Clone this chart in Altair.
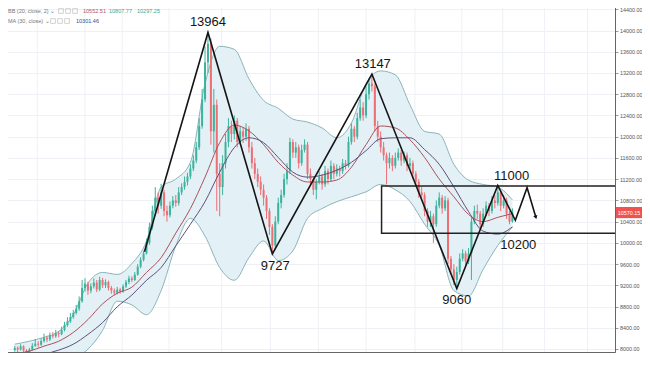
import altair as alt
import pandas as pd

# ---------------- data ----------------
first_open = 7980
closes = [8020, 7990, 8050, 7970, 7940, 7990, 8060, 8100, 8080, 8150,
          8210, 8180, 8260, 8240, 8300, 8280, 8360, 8450, 8520, 8600,
          8680, 8760, 8900, 9150, 9230, 9100, 9180, 9250, 9120, 9300,
          9200, 9260, 9150, 9100, 9060, 9120, 9080, 9180, 9260, 9330,
          9300, 9400, 9550, 9680, 9800, 10000, 10300, 10600, 10850, 10700,
          10950, 10600, 10520, 10700, 10800, 10750, 10950, 11050, 11150, 11250,
          11400, 11550, 11800, 12200, 12700, 13400, 13750, 12100, 12600, 11300,
          11050, 11500, 11900, 12200, 12050, 12300, 11900, 12100, 12000, 12150,
          11800, 11500, 11300, 11150, 11000, 10850, 10600, 10300, 9950, 10400,
          10750, 10900, 11200, 11350, 11900, 11700, 11800, 11500, 11750, 11850,
          11300, 11200, 11000, 11150, 11250, 11100, 11350, 11200, 11450, 11300,
          11400, 11350, 11500, 11450, 11900, 12150, 12000, 12350, 12550, 12400,
          12800, 13000, 12950, 12200, 12000, 11800, 11650, 11500, 11600, 11450,
          11600, 11700, 11550, 11650, 11450, 11500, 11300, 11150, 10950, 10900,
          10600, 10400, 10500, 10350, 10700, 10850, 10650, 10800, 9700, 9500,
          9300, 9450, 9700, 9800, 9650, 9800, 10400, 10600, 10550, 10350,
          10550, 10700, 10600, 10800, 10750, 10950, 10700, 10800, 10550, 10400,
          10570.15]
highs = [8060, 8050, 8090, 8070, 8000, 8020, 8110, 8190, 8150, 8200,
         8290, 8250, 8310, 8320, 8360, 8340, 8420, 8510, 8600, 8680,
         8740, 8830, 8990, 9300, 9330, 9270, 9240, 9330, 9300, 9360,
         9340, 9310, 9290, 9190, 9140, 9170, 9150, 9220, 9300, 9380,
         9370, 9450, 9600, 9730, 9850, 10080, 10380, 10700, 11050, 10950,
         11110, 11000, 10700, 10780, 10880, 10900, 11050, 11120, 11250, 11320,
         11480, 11650, 11900, 12350, 12900, 13700, 13964, 13850, 12900, 12700,
         11500, 11650, 12050, 12350, 12300, 12400, 12350, 12200, 12180, 12250,
         12200, 11900, 11600, 11400, 11250, 11100, 10900, 10650, 10350, 10500,
         10850, 11000, 11300, 11500, 11980, 11950, 11900, 11850, 11850, 11950,
         11900, 11400, 11250, 11200, 11350, 11300, 11450, 11400, 11550, 11500,
         11480, 11450, 11580, 11560, 12000, 12250, 12200, 12450, 12700, 12650,
         12950, 13100, 13180, 13000, 12300, 12100, 11900, 11700, 11700, 11650,
         11700, 11780, 11750, 11720, 11700, 11600, 11550, 11350, 11200, 11050,
         10950, 10650, 10600, 10550, 10800, 10950, 10900, 10880, 10850, 9750,
         9600, 9550, 9800, 9880, 9850, 9900, 10480, 10700, 10720, 10600,
         10650, 10780, 10750, 10880, 10900, 11080, 11000, 10900, 10850, 10600,
         10650]
lows = [7950, 7940, 7970, 7930, 7900, 7910, 7970, 8040, 8030, 8060,
        8120, 8130, 8150, 8200, 8210, 8220, 8260, 8330, 8420, 8490,
        8570, 8650, 8720, 8870, 9080, 9020, 9050, 9140, 9070, 9090,
        9150, 9150, 9100, 9040, 9010, 9030, 9040, 9060, 9150, 9220,
        9260, 9280, 9380, 9520, 9650, 9780, 9960, 10250, 10520, 10550,
        10640, 10500, 10400, 10480, 10650, 10680, 10700, 10900, 11000, 11080,
        11200, 11350, 11500, 11750, 12150, 12650, 13200, 11850, 11700, 10600,
        10500, 10900, 11400, 11800, 11900, 11950, 11800, 11850, 11880, 11920,
        11700, 11400, 11200, 11050, 10900, 10700, 10450, 10150, 9790, 9900,
        10350, 10650, 10850, 11100, 11300, 11600, 11600, 11400, 11450, 11700,
        11200, 11100, 10900, 10820, 11100, 11000, 11050, 11100, 11150, 11200,
        11250, 11250, 11300, 11380, 11420, 11850, 11900, 11950, 12300, 12300,
        12350, 12700, 12850, 12100, 11900, 11700, 11550, 11100, 11400, 11350,
        11400, 11550, 11450, 11500, 11350, 11380, 11200, 11050, 10850, 10800,
        10500, 10300, 10300, 10000, 10300, 10650, 10550, 10600, 9600, 9400,
        9200, 9140, 9400, 9650, 9550, 9600, 9300, 10350, 10450, 10250,
        10300, 10500, 10500, 10550, 10650, 10700, 10600, 10650, 10450, 10350,
        10380]

band_idx = [0, 5, 10, 15, 20, 25, 30, 35, 40, 45, 50, 55, 60, 65, 70, 75, 80,
            85, 90, 95, 100, 105, 110, 115, 120, 125, 130, 135, 140, 145, 150,
            155, 160, 165, 170]
bb_upper = [8090, 8146, 8220, 8331, 8646, 9238, 9442, 9405, 9609, 10035, 11053,
            11201, 11516, 13000, 13702, 13646, 13090, 12683, 12535, 12331, 12275,
            12164, 11979, 12257, 13000, 13239, 13165, 12600, 12100, 12050, 11480,
            11180, 11100, 11050, 10807.77]
bb_lower = [7812, 7794, 7794, 7812, 7831, 7997, 8350, 8900, 8831, 8646, 9100,
            9942, 10461, 10127, 9535, 9294, 9720, 10035, 9664, 9849, 10461,
            10646, 10775, 10868, 10961, 11100, 11000, 10780, 10350, 9950, 9100,
            9000, 9500, 9950, 10297.25]
bb_basis = [7905, 7960, 8053, 8146, 8312, 8553, 8850, 9050, 9164, 9442, 9720,
            10183, 10646, 11238, 11887, 12220, 12109, 11850, 11516, 11275, 11146,
            11146, 11183, 11424, 11850, 12201, 12164, 11942, 11609, 11201, 10868,
            10535, 10400, 10480, 10552.51]
ma30 = [7831, 7868, 7905, 7979, 8090, 8275, 8497, 8794, 9016, 9294, 9535,
        9942, 10350, 10776, 11331, 11794, 11979, 11887, 11609, 11331, 11238,
        11275, 11368, 11516, 11738, 11961, 11979, 11979, 11757, 11479, 11053,
        10590, 10220, 10164, 10301.46]

zz_idx = [44.3, 66, 88, 122, 151, 165, 171, 175, 178]
zz_price = [9830, 13964, 9790, 13180, 9140, 11080, 10424, 11040, 10480]

top_text = ["13964", "13147", "11000"]
top_idx = [66, 122.3, 169.7]
top_price = [13964, 13180, 11080]
bot_text = ["9727", "9060", "10200"]
bot_idx = [89, 151, 172]
bot_price = [9790, 9140, 10180]

box_idx = [125.3, 210]
box_price = [11070, 10180]

vgrid_idx = [7.7, 24, 36.7, 52.7, 70.7, 87.3, 103.7, 120, 136.7, 152.7, 166.7, 181, 195.7]
y_ticks = [8000, 8400, 8800, 9200, 9600, 10000, 10400, 10800, 11200, 11600,
           12000, 12400, 12800, 13200, 13600, 14000, 14400]

legend1_vals = ["10552.51", "10807.77", "10297.25"]
legend2_vals = ["10301.46"]
last_price = 10570.15

# ---------------- tables ----------------
opens = [first_open] + closes[:-1]
candles = pd.DataFrame({
    "i": list(range(len(closes))),
    "open": opens, "close": closes, "high": highs, "low": lows,
})
candles["dir"] = ["up" if c >= o else "down" for o, c in zip(opens, closes)]
bands = pd.DataFrame({"idx": band_idx, "upper": bb_upper, "lower": bb_lower,
                      "basis": bb_basis, "ma": ma30})
zz = pd.DataFrame({"k": list(range(len(zz_idx))), "idx": zz_idx, "price": zz_price})
tops = pd.DataFrame({"t": top_text, "idx": top_idx, "price": top_price})
bots = pd.DataFrame({"t": bot_text, "idx": bot_idx, "price": bot_price})
box = pd.DataFrame({"x1": [box_idx[0]], "x2": [box_idx[1]],
                    "top": [box_price[0]], "bottom": [box_price[1]]})
vgrid = pd.DataFrame({"g": vgrid_idx})
last = pd.DataFrame({"p": [last_price], "t": [f"{last_price:.2f}"]})
arrow = pd.DataFrame({"idx": [zz_idx[-1]], "price": [zz_price[-1]]})

# ---------------- scales / axes ----------------
W, H = 615, 352
xs = alt.Scale(domain=[-3.333, 203.333], nice=False, zero=False)
ys = alt.Scale(domain=[7943, 14575], nice=False, zero=False)
x_axis = alt.Axis(labels=False, ticks=False, grid=False, domain=True,
                  domainColor="#666", title=None)
y_axis = alt.Axis(orient="right", values=y_ticks, format=".2f", title=None,
                  labelFontSize=5.4, labelColor="#555", labelFont="Liberation Sans",
                  tickSize=3, tickColor="#999", labelPadding=1.5,
                  domainColor="#666", grid=True, gridColor="#edf0f5")


def X(f):
    return alt.X(f, type="quantitative", scale=xs, axis=x_axis)


def Y(f):
    return alt.Y(f, type="quantitative", scale=ys, axis=y_axis)


col = alt.Color("dir:N", scale=alt.Scale(domain=["up", "down"],
                                          range=["#3cb39c", "#ec6f76"]), legend=None)

layers = []
layers.append(alt.Chart(vgrid).mark_rule(color="#edf0f5", strokeWidth=1).encode(x=X("g")))
layers.append(alt.Chart(bands).mark_area(color="#e3f0f5", interpolate="monotone", clip=True)
              .encode(x=X("idx"), y=Y("upper"), y2="lower"))
for fld in ["upper", "lower"]:
    layers.append(alt.Chart(bands).mark_line(color="#8ab5ba", strokeWidth=1,
                                             interpolate="monotone", clip=True)
                  .encode(x=X("idx"), y=Y(fld)))
layers.append(alt.Chart(candles).mark_rule(strokeWidth=1, clip=True)
              .encode(x=X("i"), y=Y("low"), y2="high", color=col))
layers.append(alt.Chart(candles).mark_bar(size=2, clip=True)
              .encode(x=X("i"), y=Y("open"), y2="close", color=col))
layers.append(alt.Chart(bands).mark_line(color="#a9515e", strokeWidth=1,
                                         interpolate="monotone", clip=True)
              .encode(x=X("idx"), y=Y("basis")))
layers.append(alt.Chart(bands).mark_line(color="#5f5078", strokeWidth=1,
                                         interpolate="monotone", clip=True)
              .encode(x=X("idx"), y=Y("ma")))
layers.append(alt.Chart(box).mark_rect(fill="transparent", stroke="#222",
                                       strokeWidth=1.5, clip=True)
              .encode(x=X("x1"), x2="x2", y=Y("top"), y2="bottom"))
layers.append(alt.Chart(zz).mark_line(color="#151515", strokeWidth=1.6)
              .encode(x=X("idx"), y=Y("price"), order="k"))
layers.append(alt.Chart(arrow).mark_point(shape="triangle-down", filled=True,
                                          color="#151515", size=18, angle=343, opacity=1)
              .encode(x=X("idx"), y=Y("price")))
layers.append(alt.Chart(tops).mark_text(fontSize=13, font="Liberation Sans", color="#151515",
                                        baseline="alphabetic", dy=-6)
              .encode(x=X("idx"), y=Y("price"), text="t"))
layers.append(alt.Chart(bots).mark_text(fontSize=13, font="Liberation Sans", color="#151515",
                                        baseline="top", dy=6)
              .encode(x=X("idx"), y=Y("price"), text="t"))

# price tag on the axis
layers.append(alt.Chart(last).mark_point(
    shape="M-1,-0.43L1,-0.43L1,0.43L-1,0.43Z", size=676, filled=True,
    color="#ef5350", opacity=1).encode(x=alt.value(W + 14), y=Y("p")))
layers.append(alt.Chart(last).mark_text(fontSize=5.4, color="white", font="Liberation Sans")
              .encode(x=alt.value(W + 14), y=Y("p"), text="t"))

# indicator legend (top-left)
dummy = pd.DataFrame({"a": [0]})


def txt(s, x, y, color):
    return alt.Chart(dummy).mark_text(text=s, fontSize=5.5, font="Liberation Sans",
                                      color=color, align="left", baseline="middle").encode(
        x=alt.value(x), y=alt.value(y))


def sq(x, y):
    return alt.Chart(dummy).mark_point(shape="square", size=22, filled=False,
                                       color="#b0b0b0", strokeWidth=0.8).encode(
        x=alt.value(x), y=alt.value(y))


layers.append(txt("BB (20, close, 2) \u2304", 8, 11, "#777"))
for xx in [61, 68, 75]:
    layers.append(sq(xx, 11))
layers.append(txt(legend1_vals[0], 83, 11, "#b2555f"))
layers.append(txt(legend1_vals[1], 109, 11, "#3aa98f"))
layers.append(txt(legend1_vals[2], 137, 11, "#3aa98f"))
layers.append(txt("MA (30, close) \u2304", 8, 21, "#777"))
for xx in [53, 60, 67]:
    layers.append(sq(xx, 21))
layers.append(txt(legend2_vals[0], 76, 21, "#3d4a8a"))

# svg size: (615-8+27) x (352-8+1) = 634 x 345, fits the page without scrolling
chart = alt.layer(*layers).properties(
    width=W, height=H,
    autosize=alt.AutoSizeParams(type="none"),
    padding={"left": -8, "top": -8, "right": 27, "bottom": 1},
).configure_view(stroke=None).configure(background="white")

chart.save("out.html", embed_options={"renderer": "svg", "actions": False})
